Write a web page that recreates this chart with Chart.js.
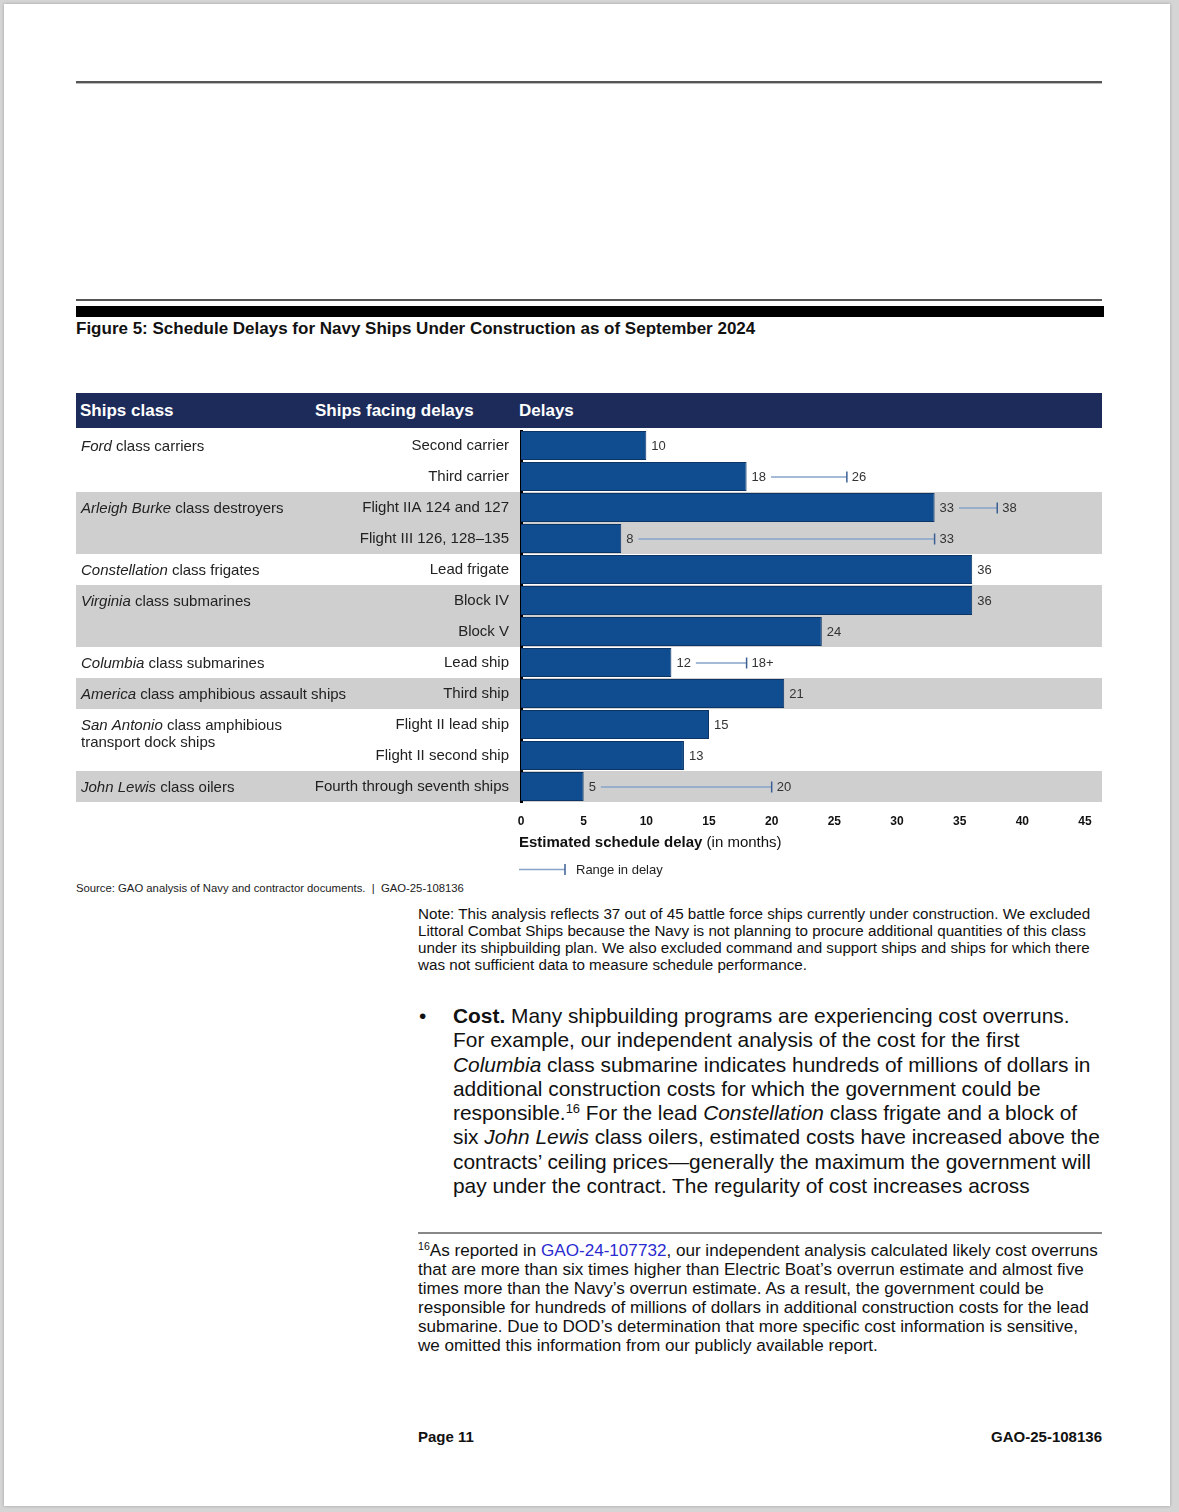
<!DOCTYPE html>
<html>
<head>
<meta charset="utf-8">
<title>Figure 5: Schedule Delays for Navy Ships Under Construction</title>
<script src="https://cdn.jsdelivr.net/npm/chart.js@4.4.1/dist/chart.umd.min.js"></script>
<style>
  html, body { margin: 0; padding: 0; }
  body {
    width: 1179px; height: 1512px; position: relative; overflow: hidden;
    background: #d5d5d5;
    font-family: "Liberation Sans", Arial, sans-serif; color: #111;
  }
  .page { position: absolute; left: 4px; top: 4px; width: 1166px; height: 1502px; background: #fff; box-shadow: 0 0 3px rgba(0,0,0,.25); }
  .abs { position: absolute; white-space: nowrap; }
  .rule-top { left: 76px; top: 81px; width: 1026px; height: 2px; background: #555; border-bottom: 1px solid #bbb; }
  .rule-thin { left: 76px; top: 299px; width: 1026px; height: 2px; background: #555; }
  .rule-thick { left: 76px; top: 306px; width: 1028px; height: 11px; background: #000; }
  .fig-title { left: 76px; top: 318px; font-size: 17px; font-weight: bold; line-height: 21px; }
  .header { left: 76px; top: 393px; width: 1026px; height: 35px; background: #1c2b5a; color: #fff; font-weight: bold; font-size: 17px; }
  .header span { position: absolute; top: 8px; }
  #chartBox { left: 76px; top: 430px; width: 1026px; height: 452px; }
  #chartBox canvas { display: block; }
  .source { left: 76px; top: 882px; font-size: 11.3px; color: #222; }
  .note { left: 418px; top: 905px; font-size: 15.2px; line-height: 17px; }
  .bullet { left: 419px; top: 1004px; font-size: 20.9px; line-height: 24.3px; }
  .para { left: 453px; top: 1004px; font-size: 20.9px; line-height: 24.3px; }
  .fn-rule { left: 418px; top: 1232px; width: 684px; height: 2px; background: #888; }
  .footnote { left: 418px; top: 1241px; font-size: 17.1px; line-height: 19px; }
  .footnote a { color: #2b2bd0; text-decoration: none; }
  sup { font-size: 0.62em; vertical-align: 0.55em; line-height: 0; }
  .foot { top: 1428px; font-size: 15px; font-weight: bold; }
</style>
</head>
<body>
<div class="page"></div>
<div class="abs rule-top"></div>
<div class="abs rule-thin"></div>
<div class="abs rule-thick"></div>
<div class="abs fig-title">Figure 5: Schedule Delays for Navy Ships Under Construction as of September 2024</div>

<div class="abs header">
  <span style="left:4px">Ships class</span>
  <span style="left:239px">Ships facing delays</span>
  <span style="left:443px">Delays</span>
</div>

<div class="abs" id="chartBox"><canvas id="delays" width="1026" height="452"></canvas></div>

<div class="abs source">Source: GAO analysis of Navy and contractor documents. &nbsp;|&nbsp; GAO-25-108136</div>

<div class="abs note">Note: This analysis reflects 37 out of 45 battle force ships currently under construction. We excluded<br>Littoral Combat Ships because the Navy is not planning to procure additional quantities of this class<br>under its shipbuilding plan. We also excluded command and support ships and ships for which there<br>was not sufficient data to measure schedule performance.</div>

<div class="abs bullet">•</div>
<div class="abs para"><b>Cost.</b> Many shipbuilding programs are experiencing cost overruns.<br>For example, our independent analysis of the cost for the first<br><i>Columbia</i> class submarine indicates hundreds of millions of dollars in<br>additional construction costs for which the government could be<br>responsible.<sup>16</sup> For the lead <i>Constellation</i> class frigate and a block of<br>six <i>John Lewis</i> class oilers, estimated costs have increased above the<br>contracts’ ceiling prices—generally the maximum the government will<br>pay under the contract. The regularity of cost increases across</div>

<div class="abs fn-rule"></div>
<div class="abs footnote"><sup>16</sup>As reported in <a href="#">GAO-24-107732</a>, our independent analysis calculated likely cost overruns<br>that are more than six times higher than Electric Boat’s overrun estimate and almost five<br>times more than the Navy’s overrun estimate. As a result, the government could be<br>responsible for hundreds of millions of dollars in additional construction costs for the lead<br>submarine. Due to DOD’s determination that more specific cost information is sensitive,<br>we omitted this information from our publicly available report.</div>

<div class="abs foot" style="left:418px">Page 11</div>
<div class="abs foot" style="right:77px">GAO-25-108136</div>

<script>
// ships facing delays (one bar each)
const shipLabels = [
  'Second carrier', 'Third carrier', 'Flight IIA 124 and 127', 'Flight III 126, 128–135',
  'Lead frigate', 'Block IV', 'Block V', 'Lead ship', 'Third ship',
  'Flight II lead ship', 'Flight II second ship', 'Fourth through seventh ships'
];
// estimated schedule delay, months
const delayMonths = [10, 18, 33, 8, 36, 36, 24, 12, 21, 15, 13, 5];
// upper end of the range in delay (null = no range)
const rangeHigh = [null, 26, 38, 33, null, null, null, 18, null, null, null, 20];
const rangeHighLabels = ['', '26', '38', '33', '', '', '', '18+', '', '', '', '20'];

// ship classes (left column)
const classItalic = ['Ford', 'Arleigh Burke', 'Constellation', 'Virginia', 'Columbia', 'America', 'San Antonio', 'John Lewis'];
const classRest = [' class carriers', ' class destroyers', ' class frigates', ' class submarines',
  ' class submarines', ' class amphibious assault ships', ' class amphibious\ntransport dock ships', ' class oilers'];
const classFirstRow = [0, 2, 4, 5, 7, 8, 9, 11];
const classRowCount = [2, 2, 1, 2, 1, 1, 2, 1];
const classShaded = [false, true, false, true, false, true, false, true];

const xTicks = [0, 5, 10, 15, 20, 25, 30, 35, 40, 45];

const FONT = '"Liberation Sans", Arial, sans-serif';
const BAR_BLUE = '#0f4c90';

const tablePlugin = {
  id: 'tablePlugin',
  beforeDraw(chart) {
    const { ctx, scales: { y } } = chart;
    const half = (y.getPixelForValue(1) - y.getPixelForValue(0)) / 2;
    ctx.save();
    ctx.fillStyle = '#cfcfcf';
    classFirstRow.forEach((r, i) => {
      if (!classShaded[i]) return;
      const top = y.getPixelForValue(r) - half;
      ctx.fillRect(0, top, chart.width, half * 2 * classRowCount[i]);
    });
    ctx.restore();
  },
  afterDatasetsDraw(chart) {
    const { ctx, scales: { x, y } } = chart;
    ctx.save();
    ctx.font = '13px ' + FONT;
    ctx.textBaseline = 'middle';
    delayMonths.forEach((v, i) => {
      const py = y.getPixelForValue(i);
      const px = x.getPixelForValue(v) + 5;
      ctx.fillStyle = '#333';
      ctx.textAlign = 'left';
      ctx.fillText(String(v), px, py + 1);
      if (rangeHigh[i] == null) return;
      const startX = px + ctx.measureText(String(v)).width + 5;
      const endX = x.getPixelForValue(rangeHigh[i]);
      ctx.strokeStyle = '#86a3c9';
      ctx.lineWidth = 1.5;
      ctx.beginPath();
      ctx.moveTo(startX, py + 0.5);
      ctx.lineTo(endX, py + 0.5);
      ctx.stroke();
      ctx.strokeStyle = '#3b5f93';
      ctx.beginPath();
      ctx.moveTo(endX, py - 5);
      ctx.lineTo(endX, py + 6);
      ctx.stroke();
      ctx.fillText(rangeHighLabels[i], endX + 5, py + 1);
    });
    ctx.restore();
  },
  afterDraw(chart) {
    const { ctx, chartArea, scales: { y } } = chart;
    ctx.save();
    ctx.textBaseline = 'middle';
    ctx.textAlign = 'left';
    ctx.fillStyle = '#222';
    // class names, italic part + plain part
    classFirstRow.forEach((r, i) => {
      const py = y.getPixelForValue(r) + 1;
      const lines = classRest[i].split('\n');
      ctx.font = 'italic 15px ' + FONT;
      ctx.fillText(classItalic[i], 5, py);
      const w = ctx.measureText(classItalic[i]).width;
      ctx.font = '15px ' + FONT;
      ctx.fillText(lines[0], 5 + w, py);
      for (let k = 1; k < lines.length; k++) ctx.fillText(lines[k], 5, py + 17 * k);
    });
    // axis title
    const left = chartArea.left - 2;
    const ty = chartArea.bottom + 41;
    ctx.fillStyle = '#111';
    ctx.font = 'bold 15px ' + FONT;
    ctx.fillText('Estimated schedule delay', left, ty);
    const tw = ctx.measureText('Estimated schedule delay ').width;
    ctx.font = '15px ' + FONT;
    ctx.fillText('(in months)', left + tw, ty);
    // legend: range in delay
    const ly = chartArea.bottom + 67;
    ctx.strokeStyle = '#86a3c9';
    ctx.lineWidth = 1.5;
    ctx.beginPath();
    ctx.moveTo(left, ly + 0.5);
    ctx.lineTo(left + 46, ly + 0.5);
    ctx.stroke();
    ctx.strokeStyle = '#3b5f93';
    ctx.beginPath();
    ctx.moveTo(left + 46, ly - 5);
    ctx.lineTo(left + 46, ly + 6);
    ctx.stroke();
    ctx.fillStyle = '#222';
    ctx.font = '13px ' + FONT;
    ctx.fillText('Range in delay', left + 57, ly + 1);
    ctx.restore();
  }
};

new Chart(document.getElementById('delays'), {
  type: 'bar',
  data: {
    labels: shipLabels,
    datasets: [{
      label: 'Estimated schedule delay',
      data: delayMonths,
      backgroundColor: BAR_BLUE,
      borderColor: '#0a3566',
      borderWidth: 1,
      barPercentage: 0.94,
      categoryPercentage: 1
    }]
  },
  options: {
    indexAxis: 'y',
    responsive: false,
    animation: false,
    layout: { padding: { left: 0, right: 17, top: 0, bottom: 0 } },
    plugins: { legend: { display: false }, tooltip: { enabled: false } },
    scales: {
      x: {
        min: 0, max: 45,
        grid: { display: false, drawTicks: false },
        border: { display: false },
        afterBuildTicks: s => { s.ticks = xTicks.map(v => ({ value: v })); },
        afterFit: s => { s.height = 80; s.paddingLeft = 0; s.paddingRight = 0; },
        ticks: { color: '#111', padding: 12, maxRotation: 0, font: { family: FONT, size: 12, weight: 'bold' } }
      },
      y: {
        z: 1,
        grid: { display: false, drawTicks: false },
        border: { display: true, color: '#000', width: 3 },
        afterFit: s => { s.width = 445; s.paddingTop = 0; s.paddingBottom = 0; },
        ticks: { color: '#222', padding: 12, font: { family: FONT, size: 15 } }
      }
    }
  },
  plugins: [tablePlugin]
});
</script>
</body>
</html>
